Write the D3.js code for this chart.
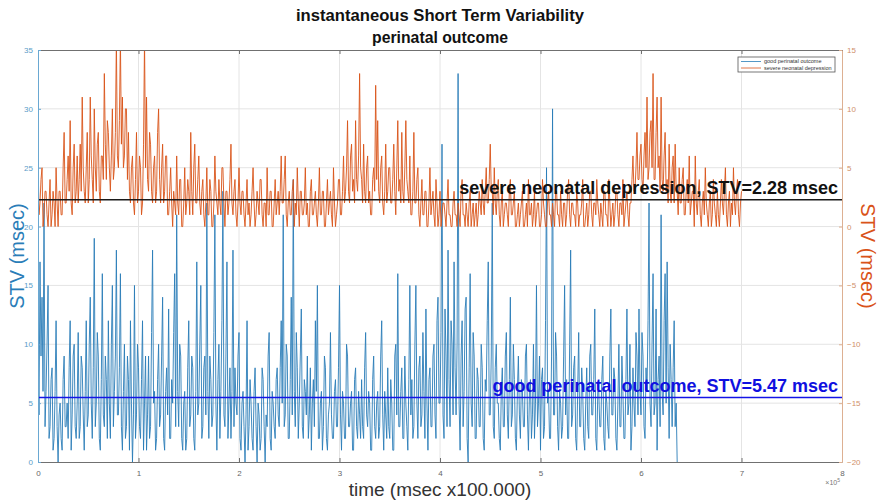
<!DOCTYPE html>
<html>
<head>
<meta charset="utf-8">
<script src="https://cdn.jsdelivr.net/npm/d3@7"></script>
<style>
  body { margin: 0; background: #fff; }
  svg { display: block; font-family: "Liberation Sans", Arial, sans-serif; }
</style>
</head>
<body>
<div id="chart"></div>
<script>
// sample spacing of both STV traces, msec
const sampleStep = 1000;

// good perinatal outcome, STV (msec), left axis
const goodSTV = [
  10,4, 17,9, 14,6, 22,3, 6,10, 15,2, 3,7, 8,1, 2,6, 12,3, 0,4, 5,2, 1,7, 9,3, 3,5, 2,8, 12,1, 4,9, 10,3, 2,5,
  11,2, 3,9, 8,4, 1,6, 12,3, 4,10, 14,5, 2,8, 19,3, 5,11, 9,2, 1,7, 16,4, 3,9, 7,2, 12,5, 2,10, 15,3, 6,9, 18,4,
  4,8, 16,3, 1,6, 10,2, 3,9, 7,1, 12,5, 0,4, 15,2, 4,10, 8,3, 2,7, 12,1, 5,9, 1,4, 9,2, 3,11, 18,5, 6,1, 2,7,
  10,3, 4,9, 14,2, 1,6, 8,4, 13,2, 2,7, 5,11, 16,3, 21,6, 3,10, 9,2, 1,5, 6,1, 2,8, 12,3, 4,9, 8,2, 1,6, 17,4,
  5,10, 15,2, 3,8, 9,4, 22,6, 2,9, 7,3, 4,11, 21,5, 1,7, 10,2, 6,12, 23,4, 3,9, 17,2, 5,8, 2,6, 18,3, 8,5, 4,9,
  11,2, 1,5, 6,3, 0,4, 12,1, 3,7, 5,2, 1,6, 8,3, 0,5, 4,1, 2,8, 7,3, 0,4, 3,9, 11,2, 1,6, 5,3, 2,7, 8,4,
  3,8, 12,5, 21,3, 4,10, 9,2, 2,7, 14,4, 24,6, 3,11, 8,2, 5,9, 13,3, 2,7, 6,4, 9,2, 4,8, 1,5, 7,3, 12,6, 15,2,
  2,5, 6,1, 3,9, 8,2, 1,4, 5,11, 4,2, 2,6, 7,3, 3,8, 15,4, 1,6, 5,2, 2,10, 9,3, 3,5, 6,1, 1,7, 8,3, 2,6,
  4,2, 7,3, 2,8, 11,4, 3,6, 5,1, 1,7, 9,3, 2,5, 6,2, 3,9, 12,4, 1,6, 4,2, 8,3, 2,7, 5,1, 1,9, 10,4, 16,3,
  3,6, 8,2, 2,9, 5,3, 1,7, 15,4, 7,2, 3,10, 15,5, 2,8, 9,3, 4,11, 6,2, 13,5, 1,7, 8,3, 3,9, 10,4, 2,12, 14,5,
  5,11, 27,4, 2,13, 9,3, 18,7, 3,12, 10,4, 17,8, 4,10, 33,5, 1,9, 12,3, 6,13, 14,2, 0,8, 16,5, 3,11, 9,2, 2,8, 7,3,
  3,10, 8,2, 1,7, 6,12, 17,4, 4,9, 22,3, 2,8, 10,5, 5,2, 1,6, 8,3, 3,9, 11,4, 2,7, 14,3, 4,10, 7,2, 1,6, 9,4,
  2,7, 6,3, 3,9, 10,4, 1,6, 7,2, 4,10, 2,5, 15,3, 5,9, 1,7, 8,2, 3,12, 25,5, 6,2, 2,9, 30,4, 4,11, 9,3, 1,6,
  5,2, 3,9, 15,4, 7,2, 2,10, 18,3, 4,8, 9,2, 1,6, 11,3, 3,8, 6,2, 1,5, 8,3, 2,9, 10,4, 4,7, 13,2, 1,6, 6,3,
  3,7, 9,2, 1,6, 5,3, 2,9, 13,4, 4,8, 7,2, 1,5, 10,3, 3,9, 6,2, 2,7, 13,4, 5,10, 1,3, 8,5, 3,11, 9,4, 13,6,
  4,11, 9,3, 2,8, 6,12, 22,5, 3,10, 16,4, 5,13, 1,7, 9,3, 21,6, 4,12, 16,5, 17,8, 2,10, 7,3, 8,12, 3,5, 0
];

// severe neonatal depression, STV (msec), right axis
const severeSTV = [
  6,1, 2,4, 5,0, 1,3, 3,1, 0,2, 4,0, 1,3, 2,0, 5,2, 0,3, 3,1, 1,5, 8,2, 2,4, 6,3, 9,2, 1,5, 7,2, 3,6,
  2,4, 7,3, 11,5, 3,2, 5,8, 2,4, 11,6, 4,2, 10,5, 3,7, 8,3, 2,6, 6,4, 13,7, 4,9, 8,5, 3,6, 10,4, 5,8, 16,6,
  5,9, 16,7, 11,5, 6,10, 10,4, 8,3, 2,5, 6,2, 1,4, 8,2, 3,6, 5,1, 2,7, 16,5, 11,4, 3,8, 7,3, 2,5, 6,2, 3,8,
  10,4, 2,5, 7,2, 3,6, 6,1, 1,3, 5,2, 0,3, 2,1, 6,2, 1,4, 4,0, 0,2, 5,1, 2,4, 3,1, 8,3, 1,5, 7,2, 2,4,
  6,2, 1,3, 4,1, 0,2, 5,1, 1,4, 3,0, 0,2, 6,3, 2,1, 4,2, 1,5, 5,2, 0,3, 3,1, 2,4, 7,2, 1,3, 4,1, 0,2,
  5,2, 1,3, 3,1, 0,2, 4,1, 2,0, 1,3, 5,2, 0,1, 3,2, 1,4, 4,1, 0,2, 2,0, 5,1, 1,3, 3,0, 0,2, 4,1, 2,3,
  1,3, 6,2, 2,4, 6,1, 0,2, 3,1, 1,3, 4,0, 2,1, 5,2, 0,3, 3,1, 1,2, 5,1, 2,0, 0,3, 4,1, 1,2, 3,1, 0,2,
  5,1, 1,3, 3,0, 0,2, 4,1, 2,3, 1,0, 5,2, 0,1, 2,4, 4,1, 1,3, 6,2, 3,5, 9,3, 2,6, 7,3, 4,2, 9,4, 3,6,
  13,5, 4,2, 7,3, 2,5, 6,2, 3,1, 1,4, 5,3, 12,4, 9,3, 2,5, 6,2, 1,3, 7,2, 3,5, 5,2, 2,4, 7,3, 1,5, 9,3,
  4,2, 8,3, 2,5, 9,4, 3,2, 6,1, 1,3, 8,2, 2,4, 5,1, 0,2, 4,1, 1,3, 3,0, 0,2, 5,1, 2,3, 1,0, 4,2, 0,1,
  3,0, 1,2, 2,1, 0,2, 4,1, 1,0, 0,2, 3,1, 1,0, 2,1, 0,3, 4,1, 1,0, 2,1, 0,2, 3,0, 1,2, 0,1, 2,0, 1,3,
  2,1, 4,2, 1,3, 5,2, 2,4, 7,3, 3,1, 5,2, 1,3, 4,1, 0,2, 3,0, 1,2, 2,1, 0,3, 4,1, 1,2, 3,0, 0,1, 2,0,
  1,2, 3,0, 0,1, 2,0, 4,1, 1,2, 0,1, 3,0, 1,2, 2,0, 0,1, 4,2, 1,0, 0,2, 3,1, 1,0, 2,1, 0,3, 3,1, 1,0,
  3,1, 0,2, 2,0, 1,3, 4,1, 0,2, 2,1, 1,0, 3,2, 0,1, 1,2, 4,0, 0,1, 2,0, 1,3, 3,1, 0,2, 2,1, 4,2, 1,0,
  2,1, 0,3, 3,1, 1,0, 4,2, 0,1, 2,0, 1,3, 3,1, 0,2, 2,1, 4,0, 1,2, 3,1, 0,2, 2,4, 6,3, 3,5, 8,4, 4,6,
  7,4, 3,6, 8,5, 11,4, 5,8, 9,5, 13,4, 4,8, 11,5, 6,3, 11,4, 3,6, 8,3, 4,2, 7,3, 2,5, 6,2, 7,3, 3,1, 5,2,
  2,4, 5,1, 1,3, 4,2, 6,1, 2,3, 3,0, 6,2, 1,3, 4,1, 0,2, 3,1, 5,2, 1,0, 2,3, 0,1, 4,2, 1,0, 3,1, 0,2,
  4,2, 1,3, 5,1, 0,2, 3,0, 2,1, 5,2, 1,3, 4,1, 0,2, 3
];

const meanGood = 5.47;
const meanSevere = 2.28;
const seriesNames = ["good perinatal outcome", "severe neonatal depression"];
const xTicks = [0, 1e5, 2e5, 3e5, 4e5, 5e5, 6e5, 7e5, 8e5];
const leftTicks = [0, 5, 10, 15, 20, 25, 30, 35];
const rightTicks = [-20, -15, -10, -5, 0, 5, 10, 15];

const width = 882, height = 501;
const margin = { top: 50, right: 40, bottom: 39, left: 38 };
const blue = "#2a7db8", orange = "#d95319";

const x = d3.scaleLinear().domain([0, 8e5]).range([margin.left, width - margin.right]);
const yL = d3.scaleLinear().domain([0, 35]).range([height - margin.bottom, margin.top]);
const yR = d3.scaleLinear().domain([-20, 15]).range([height - margin.bottom, margin.top]);

const svg = d3.select("#chart").append("svg")
  .attr("width", width)
  .attr("height", height);

svg.append("defs").append("clipPath").attr("id", "plot")
  .append("rect")
  .attr("x", margin.left).attr("y", margin.top)
  .attr("width", x.range()[1] - margin.left)
  .attr("height", yL.range()[0] - margin.top);

// grid
const grid = svg.append("g").attr("stroke", "#e4e4e4").attr("stroke-width", 1);
grid.selectAll("line.v").data(xTicks.slice(1, -1)).join("line")
  .attr("x1", d => x(d)).attr("x2", d => x(d))
  .attr("y1", yL.range()[1]).attr("y2", yL.range()[0]);
grid.selectAll("line.h").data(leftTicks.slice(1, -1)).join("line")
  .attr("x1", x.range()[0]).attr("x2", x.range()[1])
  .attr("y1", d => yL(d)).attr("y2", d => yL(d));

// traces
const plot = svg.append("g").attr("clip-path", "url(#plot)");

const lineL = d3.line().x((d, i) => x(i * sampleStep)).y(d => yL(d));
const lineR = d3.line().x((d, i) => x(i * sampleStep)).y(d => yR(d));

plot.append("path")
  .datum(goodSTV)
  .attr("fill", "none")
  .attr("stroke", blue)
  .attr("stroke-width", 0.9)
  .attr("d", lineL);

plot.append("path")
  .datum(severeSTV)
  .attr("fill", "none")
  .attr("stroke", orange)
  .attr("stroke-width", 0.9)
  .attr("d", lineR);

// mean lines
plot.append("line")
  .attr("x1", x.range()[0]).attr("x2", x.range()[1])
  .attr("y1", yR(meanSevere)).attr("y2", yR(meanSevere))
  .attr("stroke", "#1a1a1a").attr("stroke-width", 1.5);

plot.append("line")
  .attr("x1", x.range()[0]).attr("x2", x.range()[1])
  .attr("y1", yL(meanGood)).attr("y2", yL(meanGood))
  .attr("stroke", "#1414e6").attr("stroke-width", 1.5);

svg.append("text")
  .attr("x", 838).attr("y", yR(meanSevere) - 6)
  .attr("text-anchor", "end")
  .style("font-size", "18px").style("font-weight", "bold")
  .attr("fill", "#111")
  .text(`${seriesNames[1]}, STV=${meanSevere} msec`);

svg.append("text")
  .attr("x", 838).attr("y", yL(meanGood) - 6)
  .attr("text-anchor", "end")
  .style("font-size", "18px").style("font-weight", "bold")
  .attr("fill", "#1010e0")
  .text(`${seriesNames[0]}, STV=${meanGood} msec`);

// axes
function styleAxis(g, color, lineColor) {
  g.select(".domain").attr("stroke", lineColor);
  g.selectAll(".tick line").attr("stroke", lineColor);
  g.selectAll(".tick text").attr("fill", color).style("font-size", "8px");
}

svg.append("g")
  .attr("transform", `translate(0,${yL.range()[0]})`)
  .call(d3.axisBottom(x).tickValues(xTicks).tickFormat(d => d / 1e5).tickSize(-4).tickPadding(8).tickSizeOuter(0))
  .call(g => styleAxis(g, "#666", "#707070"));

svg.append("g")
  .attr("transform", `translate(0,${yL.range()[1]})`)
  .call(d3.axisTop(x).tickValues(xTicks).tickFormat("").tickSize(-4).tickSizeOuter(0))
  .call(g => styleAxis(g, "#666", "#707070"));

svg.append("g")
  .attr("transform", `translate(${x.range()[0]},0)`)
  .call(d3.axisLeft(yL).tickValues(leftTicks).tickSize(-3).tickPadding(5).tickSizeOuter(0))
  .call(g => styleAxis(g, "#5a9cc8", "#6aa8d2"));

svg.append("g")
  .attr("transform", `translate(${x.range()[1]},0)`)
  .call(d3.axisRight(yR).tickValues(rightTicks).tickSize(-3).tickPadding(5).tickSizeOuter(0))
  .call(g => styleAxis(g, "#d0906a", "#ddb092"));

// exponent
const expo = svg.append("text")
  .attr("x", 840).attr("y", 485)
  .attr("text-anchor", "end")
  .attr("fill", "#777")
  .style("font-size", "7px");
expo.append("tspan").text("\u00d710");
expo.append("tspan").attr("dy", -3).style("font-size", "5px").text("5");

// titles
svg.append("text")
  .attr("x", 440).attr("y", 21)
  .attr("text-anchor", "middle")
  .attr("textLength", 288).attr("lengthAdjust", "spacingAndGlyphs")
  .style("font-size", "17px").style("font-weight", "bold")
  .attr("fill", "#111")
  .text("instantaneous Short Term Variability");

svg.append("text")
  .attr("x", 440).attr("y", 43)
  .attr("text-anchor", "middle")
  .attr("textLength", 136).attr("lengthAdjust", "spacingAndGlyphs")
  .style("font-size", "17px").style("font-weight", "bold")
  .attr("fill", "#111")
  .text("perinatal outcome");

svg.append("text")
  .attr("x", 440).attr("y", 496)
  .attr("text-anchor", "middle")
  .style("font-size", "19px")
  .attr("fill", "#333")
  .text("time (msec x100.000)");

svg.append("text")
  .attr("transform", `translate(24,${(yL.range()[0] + yL.range()[1]) / 2}) rotate(-90)`)
  .attr("text-anchor", "middle")
  .style("font-size", "20px")
  .attr("fill", blue)
  .text("STV (msec)");

svg.append("text")
  .attr("transform", `translate(861,${(yL.range()[0] + yL.range()[1]) / 2}) rotate(90)`)
  .attr("text-anchor", "middle")
  .style("font-size", "20px")
  .attr("fill", orange)
  .text("STV (msec)");

// legend
const legend = svg.append("g").attr("transform", "translate(738,57)");
legend.append("rect")
  .attr("width", 97).attr("height", 15)
  .attr("fill", "#fff").attr("stroke", "#555").attr("stroke-width", 0.8);
const items = legend.selectAll("g").data([
  { name: seriesNames[0], color: blue },
  { name: seriesNames[1], color: orange }
]).join("g").attr("transform", (d, i) => `translate(0,${4.5 + i * 6.5})`);
items.append("line")
  .attr("x1", 3).attr("x2", 23)
  .attr("stroke", d => d.color).attr("stroke-width", 0.8);
items.append("text")
  .attr("x", 26).attr("dy", "0.33em")
  .style("font-size", "5.5px")
  .attr("fill", "#333")
  .text(d => d.name);
</script>
</body>
</html>
